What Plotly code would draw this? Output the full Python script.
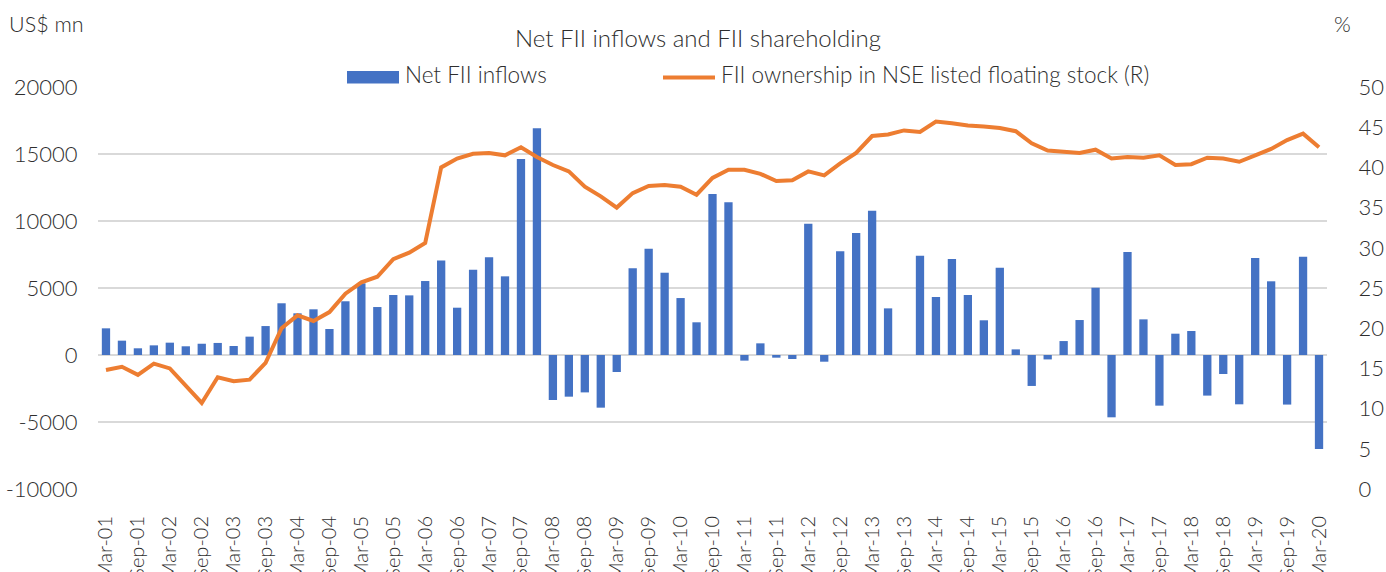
import plotly.graph_objects as go

quarters = [f"{m}-{y:02d}" for y in range(1, 20) for m in ("Mar", "Jun", "Sep", "Dec")] + ["Mar-20"]

net_fii_inflows = [
    1990, 1070, 500, 720, 920, 650, 840, 900, 670, 1370,
    2160, 3860, 3110, 3410, 1940, 4010, 5350, 3580, 4480, 4450,
    5520, 7050, 3530, 6360, 7290, 5870, 14620, 16930, -3360, -3110,
    -2790, -3930, -1270, 6470, 7930, 6140, 4250, 2440, 12010, 11390,
    -420, 870, -200, -300, 9800, -500, 7740, 9100, 10770, 3480,
    0, 7400, 4330, 7160, 4480, 2590, 6510, 420, -2310, -330,
    1040, 2610, 5020, -4650, 7680, 2660, -3780, 1590, 1790, -3030,
    -1420, -3680, 7240, 5500, -3700, 7330, -7010,
]

fii_ownership = [
    14.8, 15.2, 14.2, 15.6, 15.0, 12.8, 10.7, 13.9, 13.4, 13.6,
    15.7, 20.0, 21.6, 20.9, 22.0, 24.3, 25.7, 26.4, 28.6, 29.4,
    30.6, 40.0, 41.1, 41.7, 41.8, 41.5, 42.5, 41.3, 40.3, 39.5,
    37.6, 36.4, 35.0, 36.8, 37.7, 37.8, 37.6, 36.6, 38.7, 39.7,
    39.7, 39.2, 38.3, 38.4, 39.5, 39.0, 40.5, 41.8, 43.9, 44.1,
    44.6, 44.4, 45.7, 45.5, 45.2, 45.1, 44.9, 44.5, 43.0, 42.1,
    41.9, 41.8, 42.2, 41.1, 41.3, 41.2, 41.5, 40.3, 40.4, 41.2,
    41.1, 40.7, 41.5, 42.3, 43.4, 44.2, 42.5,
]

tick_labels = quarters[::2]
left_ticks = [-10000, -5000, 0, 5000, 10000, 15000, 20000]
left_tick_text = [str(v) for v in left_ticks]
right_ticks = [0, 5, 10, 15, 20, 25, 30, 35, 40, 45, 50]

BLUE = "#4472C4"
ORANGE = "#ED7D31"
TXT = "#2E2E2E"
GRID = "#D9D9D9"
FONT = "Lato"
WEIGHT = 300

L, R, T, B = 98, 59, 87, 83
W, H = 1386, 572
PW, PH = W - L - R, H - T - B


def px(x):
    return (x - L) / PW


def py(y):
    return (H - B - y) / PH


def f(size):
    return dict(family=FONT, size=size, color=TXT, weight=WEIGHT)


fig = go.Figure()
fig.add_trace(go.Bar(
    x=quarters, y=net_fii_inflows, name="Net FII inflows",
    marker=dict(color=BLUE, line=dict(width=0)), showlegend=False,
))
fig.add_trace(go.Scatter(
    x=quarters, y=fii_ownership, name="FII ownership in NSE listed floating stock (R)",
    mode="lines", line=dict(color=ORANGE, width=4), yaxis="y2", showlegend=False,
))

shapes = [
    dict(type="rect", xref="paper", yref="paper", x0=px(347), x1=px(399), y0=py(83.5), y1=py(71),
         fillcolor=BLUE, line=dict(width=0), layer="above"),
    dict(type="line", xref="paper", yref="paper", x0=px(663), x1=px(715), y0=py(77.5), y1=py(77.5),
         line=dict(color=ORANGE, width=4)),
]

annotations = [
    dict(text="Net FII inflows and FII shareholding", xref="paper", yref="paper",
         x=px(698), y=py(37), xanchor="center", yanchor="middle", showarrow=False, font=f(24)),
    dict(text="Net FII inflows", xref="paper", yref="paper",
         x=px(403), y=py(75), xanchor="left", yanchor="middle", showarrow=False, font=f(22.5)),
    dict(text="FII ownership in NSE listed floating stock (R)", xref="paper", yref="paper",
         x=px(719), y=py(75), xanchor="left", yanchor="middle", showarrow=False, font=f(22.5)),
    dict(text="US$ mn", xref="paper", yref="paper",
         x=px(7), y=py(24), xanchor="left", yanchor="middle", showarrow=False, font=f(21.5)),
    dict(text="%", xref="paper", yref="paper",
         x=px(1332), y=py(24), xanchor="left", yanchor="middle", showarrow=False, font=f(21.5)),
]

fig.update_layout(
    width=W, height=H,
    margin=dict(l=L, r=R, t=T, b=B, pad=0),
    paper_bgcolor="white", plot_bgcolor="white",
    font=f(20),
    bargap=0.48,
    showlegend=False,
    shapes=shapes,
    annotations=annotations,
    xaxis=dict(
        type="category", tickmode="array", tickvals=tick_labels, ticktext=tick_labels,
        tickangle=-90, showgrid=False, zeroline=False, showline=False, automargin=False,
        ticks="outside", ticklen=18, tickcolor="rgba(0,0,0,0)",
        tickfont=f(20),
    ),
    yaxis=dict(
        range=[-10000, 20000], tickmode="array", tickvals=left_ticks, ticktext=left_tick_text,
        showgrid=True, gridcolor=GRID, gridwidth=2, automargin=False,
        zeroline=True, zerolinecolor=GRID, zerolinewidth=2, showline=False,
        ticks="outside", ticklen=15, tickcolor="rgba(0,0,0,0)",
        tickfont=f(22),
    ),
    yaxis2=dict(
        range=[0, 50], tickmode="array", tickvals=right_ticks, overlaying="y", side="right",
        showgrid=False, zeroline=False, automargin=False,
        ticks="outside", ticklen=26, tickcolor="rgba(0,0,0,0)",
        tickfont=f(22),
    ),
)

fig.write_html("out.html", config={"displayModeBar": False},
               post_script="document.body.style.margin='0';")
